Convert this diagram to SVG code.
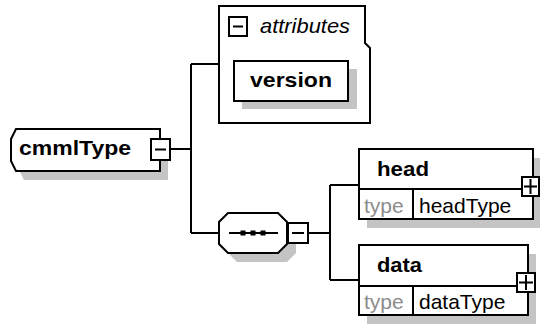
<svg xmlns="http://www.w3.org/2000/svg" width="540" height="326" viewBox="0 0 540 326">
<style>
.ln{fill:none;stroke:#000;stroke-width:2}
.bx{fill:#fff;stroke:#000;stroke-width:2}
.sh{fill:#c4c4c4;stroke:none}
.b{font-family:"Liberation Sans",Arial,sans-serif;font-weight:bold;font-size:21px;fill:#000}
.r{font-family:"Liberation Sans",Arial,sans-serif;font-size:21px;fill:#000}
.g{font-family:"Liberation Sans",Arial,sans-serif;font-size:21px;fill:#8c8c8c}
.i{font-family:"Liberation Sans",Arial,sans-serif;font-style:italic;font-size:21px;fill:#000}
</style>
<rect width="540" height="326" fill="#fff"/>
<g id="connectors">
<path class="ln" d="M170,149H191M191,64V233M191,64H219M191,233H219M308,233H330M330,185V280M330,185H359M330,280H359"/>
</g>
<g id="cmmlType">
<polygon class="sh" points="24,138 168,138 168,180 24,180 19,170 19,148"/>
<polygon class="bx" points="16,129 160,129 160,171 16,171 11,161 11,139"/>
<text class="b" x="19" y="155" textLength="112" lengthAdjust="spacingAndGlyphs">cmmlType</text>
<rect class="bx" x="151" y="139" width="19" height="21"/>
<path class="ln" d="M155,149.5H166"/>
</g>
<g id="attributes">
<polygon class="bx" points="219,6 365,6 365,43 370,48 370,123 219,123"/>
<rect class="bx" x="229" y="17" width="18" height="19"/>
<path class="ln" d="M233,26.5H243"/>
<text class="i" x="260" y="33" textLength="90" lengthAdjust="spacingAndGlyphs">attributes</text>
</g>
<g id="version">
<rect class="sh" x="242" y="69" width="115" height="40"/>
<rect class="bx" x="234" y="61" width="114" height="40"/>
<text class="b" x="250" y="87" textLength="82" lengthAdjust="spacingAndGlyphs">version</text>
</g>
<g id="sequence">
<polygon class="sh" points="237,222 287,222 296,231 296,253 287,262 237,262 228,253 228,231"/>
<polygon class="bx" points="228,213 278,213 287,222 287,244 278,253 228,253 219,244 219,222"/>
<path class="ln" d="M229,233H278"/>
<rect x="240.5" y="230.5" width="5" height="5" fill="#000"/>
<rect x="250.5" y="230.5" width="5" height="5" fill="#000"/>
<rect x="260.5" y="230.5" width="5" height="5" fill="#000"/>
<rect class="bx" x="288" y="223" width="20" height="20"/>
<path class="ln" d="M292,233H304"/>
</g>
<g id="head">
<rect class="sh" x="367" y="158" width="173" height="70"/>
<rect class="bx" x="359" y="149" width="174" height="70"/>
<path class="ln" d="M359,189H533M413,189V219"/>
<text class="b" x="377" y="176" textLength="52" lengthAdjust="spacingAndGlyphs">head</text>
<text class="g" x="364" y="213">type</text>
<text class="r" x="419" y="213">headType</text>
<rect class="bx" x="522" y="177" width="17" height="19"/>
<path class="ln" d="M524,186.5H537M530.5,179V194"/>
</g>
<g id="data">
<rect class="sh" x="367" y="254" width="169" height="70"/>
<rect class="bx" x="359" y="245" width="169" height="70"/>
<path class="ln" d="M359,286H528M413,286V315"/>
<text class="b" x="377" y="272" textLength="45" lengthAdjust="spacingAndGlyphs">data</text>
<text class="g" x="364" y="309">type</text>
<text class="r" x="419" y="309">dataType</text>
<rect class="bx" x="517" y="273" width="18" height="19"/>
<path class="ln" d="M519,282.5H533M526,275V290"/>
</g>
</svg>
